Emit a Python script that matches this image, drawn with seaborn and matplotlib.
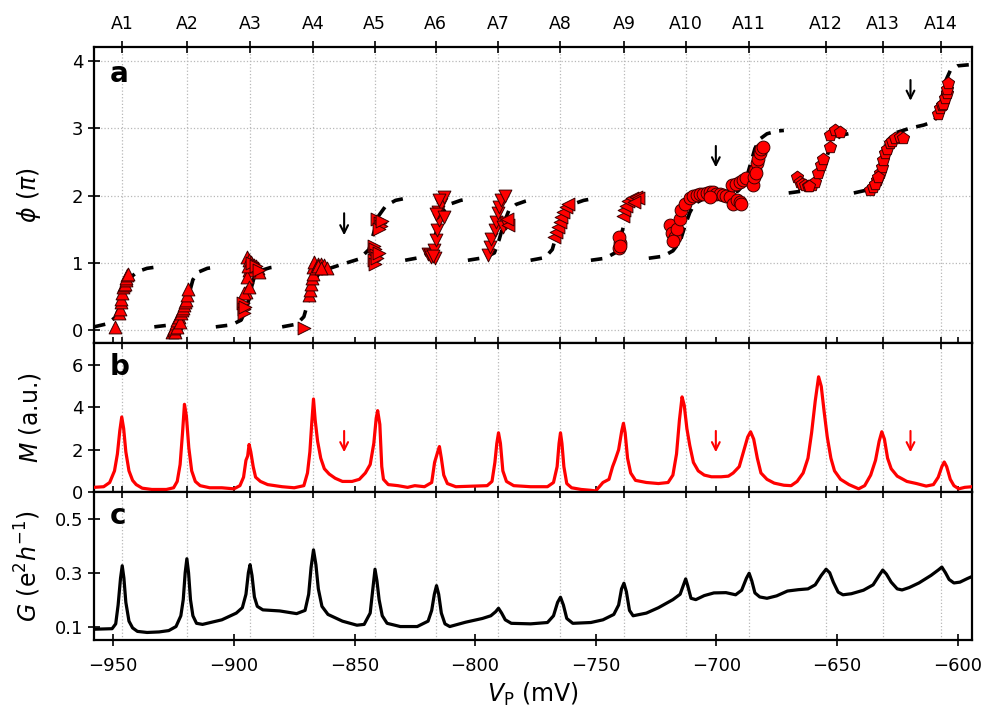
import numpy as np
import pandas as pd
import matplotlib
matplotlib.use("Agg")
import matplotlib.pyplot as plt
import seaborn as sns

sns.set_style("ticks")
plt.rcParams["font.family"] = ["DejaVu Sans"]
plt.rcParams["mathtext.fontset"] = "dejavusans"
for k in ["text.color", "axes.labelcolor", "xtick.color", "ytick.color", "axes.edgecolor"]:
    plt.rcParams[k] = "black"

# ---------------- data ----------------
peak_labels = ["A1", "A2", "A3", "A4", "A5", "A6", "A7", "A8", "A9", "A10", "A11", "A12", "A13", "A14"]
peak_pos = [-946.3, -919.5, -893.4, -867.2, -841.7, -816.3, -790.4, -764.6, -738.3, -712.7, -686.4, -654.6, -631.0, -606.8]
x_ticks = [-950, -900, -850, -800, -750, -700, -650, -600]
x_ticklabels = ["\u2212950", "\u2212900", "\u2212850", "\u2212800", "\u2212750", "\u2212700", "\u2212650", "\u2212600"]

# panel a: dashed model curves (segments)
dash_segments = [
    ([-958, -952, -949, -947, -945, -943, -940, -936, -932],
     [0.05, 0.10, 0.20, 0.40, 0.62, 0.78, 0.87, 0.92, 0.94]),
    ([-933, -926, -922, -920, -918.5, -917, -915, -911, -907],
     [0.05, 0.08, 0.14, 0.30, 0.55, 0.75, 0.86, 0.92, 0.94]),
    ([-907.5, -901, -897, -894.5, -893, -891.5, -889.5, -885, -881],
     [0.05, 0.08, 0.15, 0.35, 0.60, 0.80, 0.88, 0.93, 0.95]),
    ([-880, -874, -871, -869, -867, -865, -862, -856, -848, -844, -842, -840, -837, -833, -829],
     [0.05, 0.09, 0.20, 0.45, 0.70, 0.83, 0.90, 0.97, 1.06, 1.20, 1.45, 1.70, 1.85, 1.93, 1.96]),
    ([-829, -823, -819, -817, -815, -813, -810, -806, -802],
     [1.04, 1.08, 1.15, 1.35, 1.60, 1.78, 1.88, 1.93, 1.96]),
    ([-803, -796, -792, -790, -788, -786, -783, -779, -776],
     [1.04, 1.08, 1.15, 1.35, 1.60, 1.78, 1.87, 1.92, 1.95]),
    ([-777, -771, -768, -766, -764, -762, -759, -755, -752],
     [1.04, 1.08, 1.20, 1.45, 1.65, 1.80, 1.88, 1.93, 1.95]),
    ([-752, -746, -742, -740, -738, -736, -733, -730],
     [1.04, 1.07, 1.15, 1.35, 1.60, 1.80, 1.89, 1.93]),
    ([-728, -722, -718, -715, -713, -711, -709, -705, -700, -695, -691, -688, -686, -684, -682, -679, -675, -672],
     [1.07, 1.10, 1.18, 1.32, 1.55, 1.75, 1.88, 1.96, 1.99, 2.02, 2.07, 2.20, 2.45, 2.70, 2.84, 2.92, 2.96, 2.97]),
    ([-670, -664, -660, -657, -655, -653, -651, -648, -644],
     [2.04, 2.07, 2.13, 2.30, 2.50, 2.70, 2.82, 2.90, 2.93]),
    ([-643, -638, -635, -633, -631, -629, -626, -620, -614, -610, -608, -606.5, -605, -603, -600, -594],
     [2.04, 2.08, 2.15, 2.30, 2.60, 2.82, 2.93, 3.00, 3.05, 3.10, 3.20, 3.45, 3.70, 3.86, 3.93, 3.95]),
]

# panel a: measured phase points, grouped by marker
up_x = [-949.4, -947.6, -947.2, -946.9, -946.6, -946.3, -945.8, -945.5, -945.3, -944.9, -944.6, -944.2, -943.8,
        -925.5, -925.0, -924.5, -924.8, -924.1, -923.6, -923.4, -922.7, -922.3, -922.0, -921.4, -920.9, -920.7,
        -920.2, -919.9, -919.3, -918.9,
        -894.4, -893.8, -893.0, -892.3, -891.6, -890.9, -890.2, -889.5, -893.7, -894.4, -895.0, -895.7, -893.7, -894.0,
        -868.8, -868.3, -868.1, -867.8, -867.4, -867.4, -866.7, -865.3, -863.9, -862.5, -861.2, -866.0, -865.0, -864.0]
up_y = [0.05, 0.25, 0.32, 0.42, 0.47, 0.55, 0.64, 0.67, 0.69, 0.74, 0.77, 0.82, 0.84,
        -0.03, 0.00, -0.02, 0.03, 0.10, 0.05, 0.15, 0.20, 0.12, 0.25, 0.30, 0.33, 0.37,
        0.42, 0.45, 0.52, 0.62,
        1.09, 1.05, 1.02, 0.99, 0.97, 0.95, 0.92, 0.87, 0.89, 0.79, 0.57, 0.55, 0.64, 0.95,
        0.52, 0.60, 0.69, 0.77, 0.84, 0.94, 1.02, 0.99, 0.99, 0.97, 0.92, 0.92, 0.95, 0.93]
right_x = [-896.4, -896.0, -895.7, -895.2, -892.5, -891.0, -889.8,
           -870.8,
           -840.5, -839.5, -839.0, -840.0, -838.5, -842.0, -841.5, -841.0, -842.0, -841.5, -840.5, -839.8]
right_y = [0.40, 0.32, 0.25, 0.35, 1.00, 0.96, 0.90,
           0.03,
           1.65, 1.60, 1.55, 1.50, 1.62, 1.25, 1.20, 1.12, 1.05, 0.98, 1.08, 1.15]
down_x = [-819.6, -818.9, -818.3, -816.8, -816.9, -816.2, -815.9, -814.8, -815.5, -814.1, -813.1, -814.8, -816.2,
          -812.7, -817.5,
          -794.7, -794.0, -793.3, -791.9, -791.3, -790.6, -789.9, -789.2, -787.8, -788.5, -787.1]
down_y = [1.14, 1.12, 1.09, 1.07, 1.19, 1.34, 1.49, 1.64, 1.76, 1.88, 1.98, 1.93, 1.73,
          1.68, 1.10,
          1.12, 1.24, 1.36, 1.49, 1.61, 1.74, 1.83, 1.93, 2.00, 1.54, 1.59]
left_x = [-786.4, -786.8,
          -767.1, -766.4, -765.7, -765.0, -764.3, -763.6, -762.5, -761.5,
          -738.7, -738.2, -737.5, -736.5, -735.0, -733.5, -732.5, -734.0]
left_y = [1.56, 1.65,
          1.39, 1.46, 1.54, 1.61, 1.68, 1.76, 1.83, 1.88,
          1.70, 1.78, 1.85, 1.92, 1.96, 1.98, 1.97, 1.90]
circ_x = [-740.2, -740.1, -740.3, -740.0,
          -719.3, -718.5, -717.2, -716.5, -715.2, -714.5, -713.1, -711.1, -709.5, -708.2, -706.8, -705.5, -704.0,
          -702.7, -701.3, -700.0, -698.6, -697.2, -695.8, -694.4, -693.0, -691.6, -690.2, -689.6, -702.7, -717.8,
          -693.7, -692.0, -690.3, -688.9, -687.5, -684.8, -684.0, -683.3, -682.7, -682.0, -681.3, -680.6, -684.4, -683.7]
circ_y = [1.22, 1.30, 1.38, 1.25,
          1.56, 1.45, 1.39, 1.50, 1.66, 1.78, 1.88, 1.96, 1.99, 2.01, 2.02, 2.03, 2.04,
          2.06, 2.05, 2.03, 2.02, 2.01, 2.00, 1.98, 1.88, 1.93, 1.90, 1.88, 1.98, 1.33,
          2.16, 2.18, 2.20, 2.23, 2.26, 2.16, 2.38, 2.48, 2.55, 2.63, 2.70, 2.73, 2.28, 2.33]
pent_x = [-666.7, -665.4, -664.3, -663.3, -662.0, -660.5, -659.1, -657.8, -656.4, -655.7, -652.9, -652.9, -650.8,
          -648.8, -661.5,
          -636.3, -634.9, -633.5, -632.2, -631.5, -630.8, -630.1, -629.4, -628.0, -627.0, -626.0, -623.9, -622.5,
          -634.2, -632.8,
          -607.9, -607.2, -606.6, -605.9, -605.2, -604.5, -604.2, -603.8]
pent_y = [2.28, 2.20, 2.18, 2.16, 2.15, 2.16, 2.20, 2.33, 2.45, 2.55, 2.73, 2.90, 2.97,
          2.95, 2.14,
          2.08, 2.13, 2.23, 2.33, 2.43, 2.53, 2.63, 2.70, 2.78, 2.82, 2.85, 2.87, 2.85,
          2.18, 2.28,
          3.22, 3.30, 3.35, 3.37, 3.45, 3.52, 3.59, 3.67]

# panel b: M trace
m_x = [-958, -954, -951.5, -949.5, -948.3, -947.3, -946.5, -945.7, -944.8, -943.5, -942, -940.5, -938, -934, -928,
       -925, -923.5, -922.3, -921.3, -920.5, -919.7, -918.7, -917.5, -916, -914, -910, -905, -900,
       -897.5, -896, -895, -894.3, -893.7, -893, -892, -891, -889, -886, -880, -875,
       -871, -869.5, -868.5, -867.7, -867, -866.3, -865.3, -864, -862.5, -860.5, -858, -855, -851, -848,
       -845.5, -843.5, -842, -841, -840.4, -839.5, -838.7, -838, -836, -832, -828, -825, -821,
       -818, -816.8, -815.5, -814.8, -814, -813, -811.5, -808, -800,
       -795, -793, -791.8, -791, -790.3, -789.5, -788.5, -787, -784, -777, -770,
       -767.5, -766, -765.2, -764.6, -764, -763.2, -762, -760, -756, -752, -750,
       -748.5, -747, -744.5, -743, -742, -740.5, -739.2, -738.5, -737.8, -736.8, -735.5, -733.5, -729, -724,
       -720, -718, -716.5, -715.3, -714.2, -713.3, -712.2, -711, -709.5, -707.5, -705, -702, -698, -695,
       -693, -690.5, -688.5, -687, -685.8, -684.5, -683, -681.5, -679, -676, -672, -669,
       -666.5, -664, -662, -660.5, -659, -657.6, -656.5, -655.3, -654, -652.5, -651, -648.5, -645, -641,
       -638.5, -636, -634, -632.5, -631.4, -630.3, -629, -627.5, -625, -621, -617, -613,
       -610, -608, -606.5, -605.5, -604.5, -603, -601.5, -599.5, -597, -594]
m_y = [0.22, 0.25, 0.45, 1.0, 1.8, 2.9, 3.55, 3.0, 1.9, 1.0, 0.55, 0.35, 0.18, 0.12, 0.12,
       0.2, 0.5, 1.3, 2.8, 4.15, 3.6, 2.1, 1.0, 0.5, 0.3, 0.2, 0.2, 0.15,
       0.3, 0.7, 1.5, 1.7, 2.25, 1.9, 1.2, 0.7, 0.5, 0.35, 0.25, 0.2,
       0.3, 0.9, 1.9, 3.3, 4.4, 3.4, 2.4, 1.6, 1.1, 0.85, 0.65, 0.5, 0.5, 0.6,
       0.9, 1.3, 2.3, 3.5, 3.85, 3.2, 1.2, 0.6, 0.35, 0.3, 0.22, 0.3, 0.25,
       0.45, 1.4, 1.9, 2.15, 1.6, 0.8, 0.4, 0.25, 0.28,
       0.3, 0.5, 1.4, 2.3, 2.8, 2.3, 1.0, 0.5, 0.3, 0.25, 0.25,
       0.45, 1.2, 2.3, 2.8, 2.3, 1.2, 0.4, 0.2, 0.12, 0.08, 0.05,
       0.25, 0.45, 0.6, 1.2, 1.5, 2.0, 2.9, 3.25, 2.8, 1.6, 0.9, 0.55, 0.45, 0.4,
       0.45, 0.8, 1.8, 3.4, 4.5, 4.1, 3.0, 2.2, 1.4, 1.0, 0.8, 0.72, 0.72, 0.75,
       0.9, 1.2, 2.0, 2.6, 2.85, 2.5, 1.6, 0.9, 0.6, 0.42, 0.32, 0.3,
       0.5, 0.9, 1.6, 2.8, 4.3, 5.45, 5.0, 3.8, 2.6, 1.6, 1.0, 0.6, 0.35, 0.15,
       0.3, 0.8, 1.5, 2.4, 2.85, 2.5, 1.6, 1.1, 0.75, 0.5, 0.4, 0.28,
       0.35, 0.7, 1.2, 1.42, 1.2, 0.6, 0.3, 0.15, 0.22, 0.25]

# panel c: G trace
g_x = [-958, -950.5, -949, -948, -947, -946.3, -945.6, -944.8, -943.5, -942, -940, -936, -931, -927,
       -924, -922, -921, -920.2, -919.5, -918.8, -918, -917, -915.5, -913, -905, -899,
       -896.5, -895, -894, -893.3, -892.5, -891.5, -890.3, -888, -881, -874,
       -870.5, -869, -868, -867, -866, -865, -863.5, -861, -855, -849, -846,
       -843.5, -842.3, -841.5, -840.7, -839.8, -838.5, -836.5, -831, -824,
       -819.5, -818, -816.9, -816, -815.1, -814, -812.5, -810.5, -804, -797,
       -793.5, -791.5, -790.3, -789, -787.5, -785, -777, -770,
       -767.5, -765.8, -764.6, -763.4, -762, -759.5, -752, -747,
       -742.5, -740.5, -739.3, -738.3, -737.3, -736, -734.5, -729, -724, -718,
       -715, -713.6, -712.7, -711.8, -710.5, -708.5, -705, -701, -696, -692,
       -689.5, -687.5, -686.4, -685.3, -684, -682, -679, -675, -670.5, -666, -662,
       -659, -656.5, -654.5, -653, -651.5, -649.5, -647.5, -644, -639,
       -635, -632.5, -631, -629.5, -627.5, -625, -623, -620, -616, -611,
       -608, -606.5, -605, -603.5, -601.5, -599, -596, -594]
g_y = [0.09, 0.092, 0.11, 0.18, 0.28, 0.326, 0.28, 0.19, 0.12, 0.095, 0.082, 0.078, 0.08, 0.085,
       0.1, 0.14, 0.2, 0.3, 0.352, 0.3, 0.2, 0.14, 0.112, 0.108, 0.125, 0.15,
       0.17, 0.22, 0.3, 0.33, 0.29, 0.21, 0.175, 0.162, 0.158, 0.148,
       0.16, 0.22, 0.32, 0.385, 0.33, 0.24, 0.175, 0.145, 0.12, 0.105, 0.108,
       0.15, 0.25, 0.313, 0.27, 0.2, 0.14, 0.112, 0.1, 0.1,
       0.12, 0.16, 0.22, 0.252, 0.22, 0.15, 0.11, 0.1, 0.116, 0.13,
       0.14, 0.155, 0.168, 0.15, 0.125, 0.112, 0.11, 0.115,
       0.14, 0.19, 0.209, 0.18, 0.13, 0.112, 0.115, 0.125,
       0.145, 0.18, 0.24, 0.261, 0.23, 0.16, 0.14, 0.15, 0.17, 0.2,
       0.22, 0.255, 0.277, 0.25, 0.205, 0.2, 0.215, 0.225, 0.226, 0.218,
       0.235, 0.28, 0.298, 0.27, 0.225, 0.21, 0.205, 0.214, 0.232, 0.237, 0.24,
       0.255, 0.29, 0.313, 0.3, 0.265, 0.228, 0.218, 0.222, 0.235,
       0.255, 0.29, 0.31, 0.295, 0.265, 0.24, 0.236, 0.245, 0.262, 0.29,
       0.31, 0.321, 0.3, 0.275, 0.262, 0.265, 0.278, 0.286]

arrow_x = [-854.3, -700.2, -619.5]
arrow_a_y = [(1.78, 1.37), (2.78, 2.38), (3.76, 3.37)]
arrow_b_y = (3.02, 1.75)

# ---------------- figure ----------------
W, H = 996, 714
fig = plt.figure(figsize=(W / 100, H / 100), dpi=100)
L, R = 94 / W, 972 / W
def rect(top, bot):
    return [L, 1 - bot / H, R - L, (bot - top) / H]
ax_a = fig.add_axes(rect(47, 343))
ax_b = fig.add_axes(rect(343, 492))
ax_c = fig.add_axes(rect(492, 640))

red = "#ff0000"
fs_tick = 13
fs_lab = 17

for ax in (ax_a, ax_b, ax_c):
    ax.set_xlim(-958, -594)
    ax.set_xticks(x_ticks)
    ax.set_xticks(peak_pos, minor=True)
    ax.tick_params(which="major", axis="x", bottom=True, top=False, direction="inout", length=8,
                   width=1.2, labelsize=fs_tick, labelbottom=False)
    ax.tick_params(which="minor", axis="x", bottom=False, top=True, direction="inout", length=8,
                   width=1.2, labeltop=False, labelbottom=False)
    ax.tick_params(axis="y", which="major", left=True, right=False, direction="inout", length=8,
                   width=1.2, labelsize=fs_tick)
    ax.tick_params(axis="y", which="minor", left=False, right=False)
    ax.grid(which="minor", axis="x", color="#b8b8b8", linestyle=":", linewidth=0.9)
    ax.grid(which="major", axis="x", visible=False)
    for s in ax.spines.values():
        s.set_linewidth(1.6)
        s.set_visible(True)
        s.set_color("black")
    ax.set_facecolor("white")

# --- panel a ---
ax_a.set_ylim(-0.19, 4.21)
ax_a.set_yticks([0, 1, 2, 3, 4])
ax_a.grid(which="major", axis="y", color="#b8b8b8", linestyle=":", linewidth=0.9)
ax_a.set_xticklabels(peak_labels, minor=True)
ax_a.tick_params(which="minor", axis="x", labeltop=True, labelsize=12.5, pad=6)

for sx, sy in dash_segments:
    sns.lineplot(x=sx, y=sy, ax=ax_a, color="black", linewidth=2.6, estimator=None, sort=False,
                 linestyle=(0, (3.2, 2.4)), zorder=2)

mk_kw = dict(color=red, edgecolor="#3a0000", linewidth=0.7, ax=ax_a, zorder=3, legend=False)
sns.scatterplot(x=up_x, y=up_y, marker="^", s=85, **mk_kw)
sns.scatterplot(x=right_x, y=right_y, marker=">", s=85, **mk_kw)
sns.scatterplot(x=down_x, y=down_y, marker="v", s=85, **mk_kw)
sns.scatterplot(x=left_x, y=left_y, marker="<", s=85, **mk_kw)
sns.scatterplot(x=circ_x, y=circ_y, marker="o", s=85, **mk_kw)
sns.scatterplot(x=pent_x, y=pent_y, marker="p", s=85, **mk_kw)

for xa, (y0, y1) in zip(arrow_x, arrow_a_y):
    ax_a.annotate("", xy=(xa, y1), xytext=(xa, y0),
                  arrowprops=dict(arrowstyle="->", color="black", lw=1.5, mutation_scale=14))
ax_a.set_xlabel("")
ax_a.set_ylabel(r"$\phi$ ($\pi$)", fontsize=fs_lab)
ax_a.text(0.018, 0.955, "a", transform=ax_a.transAxes, fontsize=20, fontweight="bold", va="top", ha="left")

# --- panel b ---
ax_b.set_ylim(0, 7.05)
ax_b.set_yticks([0, 2, 4, 6])
sns.lineplot(x=m_x, y=m_y, ax=ax_b, color=red, linewidth=2.3, estimator=None, sort=False, zorder=3)
for xa in arrow_x:
    ax_b.annotate("", xy=(xa, arrow_b_y[1]), xytext=(xa, arrow_b_y[0]),
                  arrowprops=dict(arrowstyle="->", color=red, lw=1.5, mutation_scale=14))
ax_b.set_xlabel("")
ax_b.set_ylabel(r"$M$ (a.u.)", fontsize=fs_lab)
ax_b.text(0.018, 0.93, "b", transform=ax_b.transAxes, fontsize=20, fontweight="bold", va="top", ha="left")

# --- panel c ---
ax_c.set_ylim(0.05, 0.6)
ax_c.set_yticks([0.1, 0.3, 0.5])
sns.lineplot(x=g_x, y=g_y, ax=ax_c, color="black", linewidth=2.3, estimator=None, sort=False, zorder=3)
ax_c.tick_params(which="major", axis="x", labelbottom=True, pad=8)
ax_c.set_xticklabels(x_ticklabels)
ax_c.set_xlabel("")
ax_c.set_ylabel(r"$G$ (e$^2$$h^{-1}$)", fontsize=fs_lab)
ax_c.text(0.018, 0.93, "c", transform=ax_c.transAxes, fontsize=20, fontweight="bold", va="top", ha="left")
fig.text((L + R) / 2, 1 - 694 / H, r"$V_\mathrm{P}$ (mV)", fontsize=fs_lab, ha="center", va="center")

for ax in (ax_a, ax_b, ax_c):
    ax.yaxis.set_label_coords(-0.058, 0.5)

fig.savefig("out.png", dpi=100, facecolor="white")
